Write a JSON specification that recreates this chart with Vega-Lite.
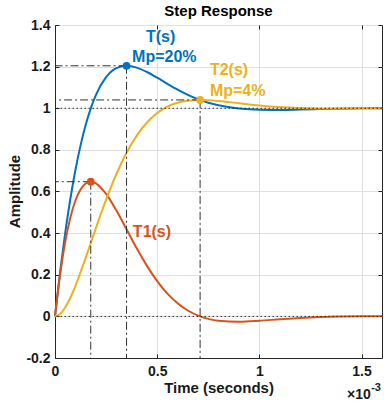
{
  "$schema": "https://vega.github.io/schema/vega-lite/v6.json",
  "width": 327,
  "height": 333,
  "autosize": {"type": "none"},
  "padding": {"left": 55, "top": 25, "right": 2, "bottom": 51},
  "background": "white",
  "title": {"text": "Step Response", "fontSize": 15, "fontWeight": "bold", "font": "Liberation Sans", "color": "#000000", "anchor": "middle", "offset": 8, "dy": 9},
  "config": {
    "view": {"stroke": "#262626", "strokeWidth": 1},
    "axis": {"domainColor": "#262626", "tickColor": "#262626", "labelColor": "#1a1a1a", "titleColor": "#1a1a1a", "labelFont": "Liberation Sans", "titleFont": "Liberation Sans", "labelFontSize": 14, "labelFontWeight": "bold", "titleFontSize": 15, "titleFontWeight": "bold", "gridColor": "#dfdfdf", "gridWidth": 1, "gridOpacity": 1, "tickSize": -4, "domainWidth": 1, "labelFlush": false, "labelOverlap": false}
  },
  "datasets": {
    "curves": [
      {"t": 0, "amp": 0, "series": "T(s)"},
      {"t": 0.025, "amp": 0.2133, "series": "T(s)"},
      {"t": 0.05, "amp": 0.4009, "series": "T(s)"},
      {"t": 0.075, "amp": 0.5639, "series": "T(s)"},
      {"t": 0.1, "amp": 0.7036, "series": "T(s)"},
      {"t": 0.125, "amp": 0.8215, "series": "T(s)"},
      {"t": 0.15, "amp": 0.9197, "series": "T(s)"},
      {"t": 0.175, "amp": 0.9995, "series": "T(s)"},
      {"t": 0.2, "amp": 1.0634, "series": "T(s)"},
      {"t": 0.25, "amp": 1.1492, "series": "T(s)"},
      {"t": 0.3, "amp": 1.1924, "series": "T(s)"},
      {"t": 0.35, "amp": 1.2042, "series": "T(s)"},
      {"t": 0.4, "amp": 1.1954, "series": "T(s)"},
      {"t": 0.45, "amp": 1.1741, "series": "T(s)"},
      {"t": 0.5, "amp": 1.1467, "series": "T(s)"},
      {"t": 0.55, "amp": 1.1175, "series": "T(s)"},
      {"t": 0.6, "amp": 1.0896, "series": "T(s)"},
      {"t": 0.65, "amp": 1.0647, "series": "T(s)"},
      {"t": 0.71, "amp": 1.04, "series": "T(s)"},
      {"t": 0.75, "amp": 1.0268, "series": "T(s)"},
      {"t": 0.8, "amp": 1.014, "series": "T(s)"},
      {"t": 0.9, "amp": 0.9984, "series": "T(s)"},
      {"t": 1.0, "amp": 0.9926, "series": "T(s)"},
      {"t": 1.1, "amp": 0.9921, "series": "T(s)"},
      {"t": 1.2, "amp": 0.9939, "series": "T(s)"},
      {"t": 1.3, "amp": 0.9962, "series": "T(s)"},
      {"t": 1.4, "amp": 0.9981, "series": "T(s)"},
      {"t": 1.5, "amp": 0.9994, "series": "T(s)"},
      {"t": 1.6, "amp": 1.0, "series": "T(s)"},
      {"t": 0, "amp": 0, "series": "T1(s)"},
      {"t": 0.025, "amp": 0.2017, "series": "T1(s)"},
      {"t": 0.05, "amp": 0.3579, "series": "T1(s)"},
      {"t": 0.075, "amp": 0.4744, "series": "T1(s)"},
      {"t": 0.1, "amp": 0.5567, "series": "T1(s)"},
      {"t": 0.125, "amp": 0.6096, "series": "T1(s)"},
      {"t": 0.15, "amp": 0.6385, "series": "T1(s)"},
      {"t": 0.175, "amp": 0.6468, "series": "T1(s)"},
      {"t": 0.2, "amp": 0.6393, "series": "T1(s)"},
      {"t": 0.25, "amp": 0.5884, "series": "T1(s)"},
      {"t": 0.3, "amp": 0.5094, "series": "T1(s)"},
      {"t": 0.35, "amp": 0.4183, "series": "T1(s)"},
      {"t": 0.4, "amp": 0.3269, "series": "T1(s)"},
      {"t": 0.45, "amp": 0.2427, "series": "T1(s)"},
      {"t": 0.5, "amp": 0.1697, "series": "T1(s)"},
      {"t": 0.55, "amp": 0.1095, "series": "T1(s)"},
      {"t": 0.6, "amp": 0.063, "series": "T1(s)"},
      {"t": 0.65, "amp": 0.0283, "series": "T1(s)"},
      {"t": 0.71, "amp": 0.0, "series": "T1(s)"},
      {"t": 0.75, "amp": -0.012, "series": "T1(s)"},
      {"t": 0.8, "amp": -0.0211, "series": "T1(s)"},
      {"t": 0.9, "amp": -0.0257, "series": "T1(s)"},
      {"t": 1.0, "amp": -0.021, "series": "T1(s)"},
      {"t": 1.1, "amp": -0.0138, "series": "T1(s)"},
      {"t": 1.2, "amp": -0.0073, "series": "T1(s)"},
      {"t": 1.3, "amp": -0.0029, "series": "T1(s)"},
      {"t": 1.4, "amp": -0.0003, "series": "T1(s)"},
      {"t": 1.5, "amp": 0.0008, "series": "T1(s)"},
      {"t": 1.6, "amp": 0.001, "series": "T1(s)"},
      {"t": 0, "amp": 0, "series": "T2(s)"},
      {"t": 0.025, "amp": 0.0116, "series": "T2(s)"},
      {"t": 0.05, "amp": 0.043, "series": "T2(s)"},
      {"t": 0.075, "amp": 0.0895, "series": "T2(s)"},
      {"t": 0.1, "amp": 0.147, "series": "T2(s)"},
      {"t": 0.125, "amp": 0.2119, "series": "T2(s)"},
      {"t": 0.15, "amp": 0.2812, "series": "T2(s)"},
      {"t": 0.175, "amp": 0.3527, "series": "T2(s)"},
      {"t": 0.2, "amp": 0.4241, "series": "T2(s)"},
      {"t": 0.25, "amp": 0.5608, "series": "T2(s)"},
      {"t": 0.3, "amp": 0.683, "series": "T2(s)"},
      {"t": 0.35, "amp": 0.786, "series": "T2(s)"},
      {"t": 0.4, "amp": 0.8685, "series": "T2(s)"},
      {"t": 0.45, "amp": 0.9314, "series": "T2(s)"},
      {"t": 0.5, "amp": 0.977, "series": "T2(s)"},
      {"t": 0.55, "amp": 1.008, "series": "T2(s)"},
      {"t": 0.6, "amp": 1.0266, "series": "T2(s)"},
      {"t": 0.65, "amp": 1.0364, "series": "T2(s)"},
      {"t": 0.71, "amp": 1.04, "series": "T2(s)"},
      {"t": 0.75, "amp": 1.0388, "series": "T2(s)"},
      {"t": 0.8, "amp": 1.0351, "series": "T2(s)"},
      {"t": 0.9, "amp": 1.0242, "series": "T2(s)"},
      {"t": 1.0, "amp": 1.0136, "series": "T2(s)"},
      {"t": 1.1, "amp": 1.0059, "series": "T2(s)"},
      {"t": 1.2, "amp": 1.0012, "series": "T2(s)"},
      {"t": 1.3, "amp": 0.9991, "series": "T2(s)"},
      {"t": 1.4, "amp": 0.9984, "series": "T2(s)"},
      {"t": 1.5, "amp": 0.9986, "series": "T2(s)"},
      {"t": 1.6, "amp": 0.999, "series": "T2(s)"}
    ],
    "peaks": [
      {"t": 0.175, "amp": 0.647, "series": "T1(s)"},
      {"t": 0.35, "amp": 1.204, "series": "T(s)"},
      {"t": 0.71, "amp": 1.04, "series": "T2(s)"}
    ],
    "levels": [{"amp": 0}, {"amp": 1}],
    "labels": [
      {"t": 0.445, "amp": 1.32, "label": "T(s)", "series": "T(s)"},
      {"t": 0.377, "amp": 1.22, "label": "Mp=20%", "series": "T(s)"},
      {"t": 0.758, "amp": 1.161, "label": "T2(s)", "series": "T2(s)"},
      {"t": 0.758, "amp": 1.06, "label": "Mp=4%", "series": "T2(s)"},
      {"t": 0.381, "amp": 0.383, "label": "T1(s)", "series": "T1(s)"}
    ],
    "expbase": [{"t": 1.545, "amp": -0.397, "label": "×10"}],
    "exppow": [{"t": 1.547, "amp": -0.36, "label": "-3"}]
  },
  "resolve": {"axis": {"x": "independent", "y": "independent"}},
  "layer": [
    {
      "data": {"name": "curves"},
      "mark": {"type": "line", "strokeWidth": 2, "interpolate": "monotone"},
      "encoding": {
        "x": {"field": "t", "type": "quantitative", "scale": {"domain": [0, 1.6], "nice": false, "zero": false},
          "axis": {"values": [0, 0.5, 1, 1.5], "labelExpr": "format(datum.value, '~g')", "title": "Time (seconds)", "grid": true, "labelPadding": 10, "titleX": 163.5, "titleY": 34, "titleBaseline": "alphabetic", "titleAnchor": "middle"}},
        "y": {"field": "amp", "type": "quantitative", "scale": {"domain": [-0.2, 1.4], "nice": false, "zero": false},
          "axis": {"values": [-0.2, 0, 0.2, 0.4, 0.6, 0.8, 1, 1.2, 1.4], "labelExpr": "datum.value < 0 ? '-' + format(-datum.value, '~g') : format(datum.value, '~g')", "title": "Amplitude", "grid": true, "labelPadding": 9, "titleX": -36, "titleY": 166, "titleBaseline": "alphabetic", "titleAngle": -90}},
        "color": {"field": "series", "type": "nominal", "scale": {"domain": ["T(s)", "T1(s)", "T2(s)"], "range": ["#0072BD", "#D95319", "#EDB120"]}, "legend": null}
      }
    },
    {
      "data": {"name": "levels"},
      "mark": {"type": "rule", "color": "#262626", "strokeWidth": 1, "strokeDash": [1.5, 2.5]},
      "encoding": {"y": {"field": "amp", "type": "quantitative", "axis": null}}
    },
    {
      "data": {"name": "peaks"},
      "mark": {"type": "rule", "color": "#333333", "strokeWidth": 1, "strokeDash": [8, 3, 2, 3]},
      "encoding": {
        "x": {"field": "t", "type": "quantitative", "axis": null},
        "y": {"field": "amp", "type": "quantitative", "axis": null},
        "y2": {"datum": -0.2}
      }
    },
    {
      "data": {"name": "peaks"},
      "mark": {"type": "rule", "color": "#333333", "strokeWidth": 1, "strokeDash": [8, 3, 2, 3]},
      "encoding": {
        "x": {"field": "t", "type": "quantitative", "axis": null},
        "x2": {"datum": 0},
        "y": {"field": "amp", "type": "quantitative", "axis": null}
      }
    },
    {
      "data": {"name": "peaks"},
      "mark": {"type": "circle", "size": 60, "opacity": 1},
      "encoding": {
        "x": {"field": "t", "type": "quantitative", "axis": {"orient": "top", "labels": false, "title": null, "grid": false, "domain": false, "values": [0, 0.5, 1, 1.5]}},
        "y": {"field": "amp", "type": "quantitative", "axis": {"orient": "right", "labels": false, "title": null, "grid": false, "domain": false, "values": [-0.2, 0, 0.2, 0.4, 0.6, 0.8, 1, 1.2, 1.4]}},
        "color": {"field": "series", "type": "nominal", "legend": null}
      }
    },
    {
      "data": {"name": "labels"},
      "mark": {"type": "text", "align": "left", "baseline": "alphabetic", "font": "Liberation Sans", "fontSize": 16, "fontWeight": "bold"},
      "encoding": {
        "x": {"field": "t", "type": "quantitative", "axis": null},
        "y": {"field": "amp", "type": "quantitative", "axis": null},
        "text": {"field": "label", "type": "nominal"},
        "color": {"field": "series", "type": "nominal", "legend": null}
      }
    },
    {
      "data": {"name": "expbase"},
      "mark": {"type": "text", "align": "right", "baseline": "alphabetic", "font": "Liberation Sans", "fontSize": 14, "fontWeight": "bold", "color": "#1a1a1a"},
      "encoding": {
        "x": {"field": "t", "type": "quantitative", "axis": null},
        "y": {"field": "amp", "type": "quantitative", "axis": null},
        "text": {"field": "label", "type": "nominal"}
      }
    },
    {
      "data": {"name": "exppow"},
      "mark": {"type": "text", "align": "left", "baseline": "alphabetic", "font": "Liberation Sans", "fontSize": 11, "fontWeight": "bold", "color": "#1a1a1a"},
      "encoding": {
        "x": {"field": "t", "type": "quantitative", "axis": null},
        "y": {"field": "amp", "type": "quantitative", "axis": null},
        "text": {"field": "label", "type": "nominal"}
      }
    }
  ]
}
